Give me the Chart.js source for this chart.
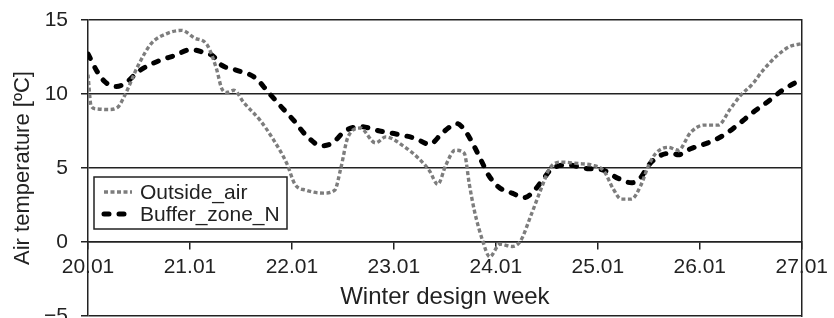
<!DOCTYPE html>
<html>
<head>
<meta charset="utf-8">
<title>Winter design week</title>
<script src="https://cdn.jsdelivr.net/npm/chart.js@4/dist/chart.umd.min.js"></script>
<style>
  body { margin: 0; overflow: hidden; background: #fff; }
  #wrap { width: 834px; height: 336px; }
</style>
</head>
<body>
<div id="wrap"><canvas id="chart1"></canvas></div>
<script>
'use strict'

var dayLabels = ["20.01", "21.01", "22.01", "23.01", "24.01", "25.01", "26.01", "27.01"];
var yTicks = [-5, 0, 5, 10, 15];

// days since 20.01 00:00
var outsideDays = [0.00, 0.03, 0.08, 0.20, 0.29, 0.36, 0.49, 0.62, 0.78, 0.92, 1.04, 1.17, 1.26, 1.31, 1.36, 1.43, 1.53, 1.69, 1.82, 1.95,
  2.03, 2.14, 2.31, 2.42, 2.48, 2.55, 2.67, 2.82, 2.92, 3.09, 3.25, 3.35, 3.43, 3.51, 3.60, 3.69, 3.74, 3.79, 3.87, 3.94,
  4.04, 4.16, 4.24, 4.35, 4.45, 4.53, 4.64, 4.81, 4.94, 5.06, 5.15, 5.23, 5.33, 5.42, 5.50, 5.57, 5.69, 5.79, 5.91, 6.04,
  6.18, 6.30, 6.40, 6.52, 6.62, 6.76, 6.88, 7.00];
var outsideTemp = [11.3, 9.2, 9.0, 8.95, 9.1, 9.9, 11.9, 13.4, 14.1, 14.3, 13.8, 13.3, 11.7, 10.4, 10.1, 10.25, 9.4, 8.2, 6.9, 5.3,
  3.9, 3.5, 3.3, 3.5, 5.0, 7.1, 7.7, 6.7, 7.1, 6.5, 5.6, 4.8, 3.9, 5.2, 6.2, 6.0, 3.9, 2.1, 0.1, -1.0,
  -0.15, -0.3, 0.05, 1.9, 3.7, 5.0, 5.4, 5.3, 5.2, 4.8, 3.6, 2.9, 2.9, 3.8, 5.2, 6.0, 6.4, 6.2, 7.4, 7.9,
  7.9, 9.0, 9.9, 10.7, 11.6, 12.6, 13.2, 13.4];

var bufferDays = [0.00, 0.10, 0.17, 0.28, 0.38, 0.49, 0.68, 0.85, 1.01, 1.14, 1.22, 1.31, 1.46, 1.64, 1.77, 1.90, 2.02, 2.14, 2.29, 2.40,
  2.52, 2.67, 2.86, 3.02, 3.21, 3.35, 3.48, 3.62, 3.70, 3.77, 3.85, 3.93, 4.03, 4.16, 4.28, 4.38, 4.47, 4.55, 4.71, 4.91,
  5.03, 5.20, 5.33, 5.42, 5.50, 5.60, 5.72, 5.79, 5.91, 6.08, 6.23, 6.37, 6.52, 6.69, 6.81, 7.00];
var bufferTemp = [12.7, 11.4, 10.8, 10.5, 10.8, 11.5, 12.2, 12.6, 13.0, 12.8, 12.6, 11.95, 11.6, 11.1, 10.1, 9.1, 8.2, 7.2, 6.5, 6.7,
  7.5, 7.8, 7.5, 7.3, 7.0, 6.6, 7.4, 8.0, 7.5, 6.7, 5.6, 4.5, 3.7, 3.3, 3.0, 3.5, 4.3, 4.95, 5.2, 4.95,
  4.9, 4.3, 4.0, 4.35, 5.2, 5.8, 6.0, 5.9, 6.3, 6.7, 7.2, 7.9, 8.75, 9.6, 10.25, 11.0];

var font = "'Liberation Sans', Arial, sans-serif";
var ink = '#222';

/////////////////////////////////////////////////////////////////
function points(days, temps) {
  var out = [];
  for (var i = 0; i < days.length; i++) {
    out.push({ x: days[i], y: temps[i] });
  }
  return out;
}

/////////////////////////////////////////////////////////////////
// legend box sitting inside the plot, under the 5 line
var boxLegend = {
  id: 'boxLegend',
  afterDatasetsDraw: function (chart) {
    var ctx = chart.ctx;
    var left = chart.chartArea.left + 6;
    var top = chart.scales.y.getPixelForValue(5) + 9;
    var w = 193, h = 52;
    ctx.save();
    ctx.fillStyle = '#fff';
    ctx.fillRect(left, top, w, h);
    ctx.strokeStyle = ink;
    ctx.lineWidth = 1.5;
    ctx.strokeRect(left, top, w, h);
    ctx.font = '21px ' + font;
    ctx.textBaseline = 'middle';
    chart.data.datasets.forEach(function (ds, i) {
      var cy = top + 15 + i * 22;
      ctx.beginPath();
      ctx.setLineDash(ds.borderDash);
      ctx.lineCap = ds.borderCapStyle;
      ctx.lineWidth = ds.borderWidth;
      ctx.strokeStyle = ds.borderColor;
      ctx.moveTo(left + 10, cy);
      ctx.lineTo(left + 38, cy);
      ctx.stroke();
      ctx.setLineDash([]);
      ctx.fillStyle = ink;
      ctx.fillText(ds.label, left + 46, cy + 1);
    });
    ctx.restore();
  }
};

/////////////////////////////////////////////////////////////////
function makeChart() {
  var ctx = document.getElementById('chart1').getContext('2d');
  new Chart(ctx, {
    type: 'line',
    data: {
      datasets: [{
        label: 'Outside_air',
        data: points(outsideDays, outsideTemp),
        borderColor: '#7d7d7d',
        borderWidth: 3.4,
        borderDash: [4, 2.5],
        borderCapStyle: 'butt',
        pointRadius: 0,
        cubicInterpolationMode: 'monotone',
        fill: false
      }, {
        label: 'Buffer_zone_N',
        data: points(bufferDays, bufferTemp),
        borderColor: '#000',
        borderWidth: 5,
        borderDash: [5, 10],
        borderCapStyle: 'round',
        pointRadius: 0,
        cubicInterpolationMode: 'monotone',
        fill: false
      }]
    },
    options: {
      responsive: true,
      maintainAspectRatio: false,
      animation: false,
      layout: { padding: { top: 20, right: 27, bottom: 20, left: 0 } },
      plugins: { legend: { display: false }, tooltip: { enabled: false } },
      scales: {
        x: {
          type: 'linear',
          position: { y: 0 },
          min: 0,
          max: 7,
          afterFit: function (s) { s.height = 0; },
          afterBuildTicks: function (s) {
            s.ticks = dayLabels.map(function (l, i) { return { value: i }; });
          },
          ticks: {
            autoSkip: false,
            maxRotation: 0,
            padding: 6,
            color: ink,
            font: { family: font, size: 21 },
            callback: function (v) { return dayLabels[v]; }
          },
          grid: { drawOnChartArea: false, drawTicks: true, tickLength: 7, color: ink, lineWidth: 1.5 },
          border: { display: true, color: ink, width: 1.5 },
          title: {
            display: true,
            text: 'Winter design week',
            color: ink,
            font: { family: font, size: 24 },
            padding: { top: 0, bottom: -70 }
          }
        },
        y: {
          position: 'left',
          min: -5,
          max: 15,
          afterFit: function (s) {
            s.width = 88;
            s.paddingTop = 0;
            s.paddingBottom = 0;
          },
          afterBuildTicks: function (s) {
            s.ticks = yTicks.map(function (v) { return { value: v }; });
          },
          ticks: {
            padding: 13,
            color: ink,
            font: { family: font, size: 21 },
            callback: function (v) { return v < 0 ? '\u2212' + Math.abs(v) : v; }
          },
          grid: { color: ink, lineWidth: 1.5, tickLength: 7 },
          border: { display: true, color: ink, width: 1.5 },
          title: {
            display: true,
            text: 'Air temperature [\u00baC]',
            color: ink,
            font: { family: font, size: 22 },
            padding: { top: 10, bottom: 0 }
          }
        },
        y2: {
          position: 'right',
          min: -5,
          max: 15,
          afterFit: function (s) { s.width = 0; },
          ticks: { display: false },
          grid: { display: false, drawTicks: false },
          border: { display: true, color: ink, width: 1.5 }
        }
      }
    },
    plugins: [boxLegend]
  });
}

/////////////////////////////////////////////////////////////////
makeChart();
</script>
</body>
</html>
